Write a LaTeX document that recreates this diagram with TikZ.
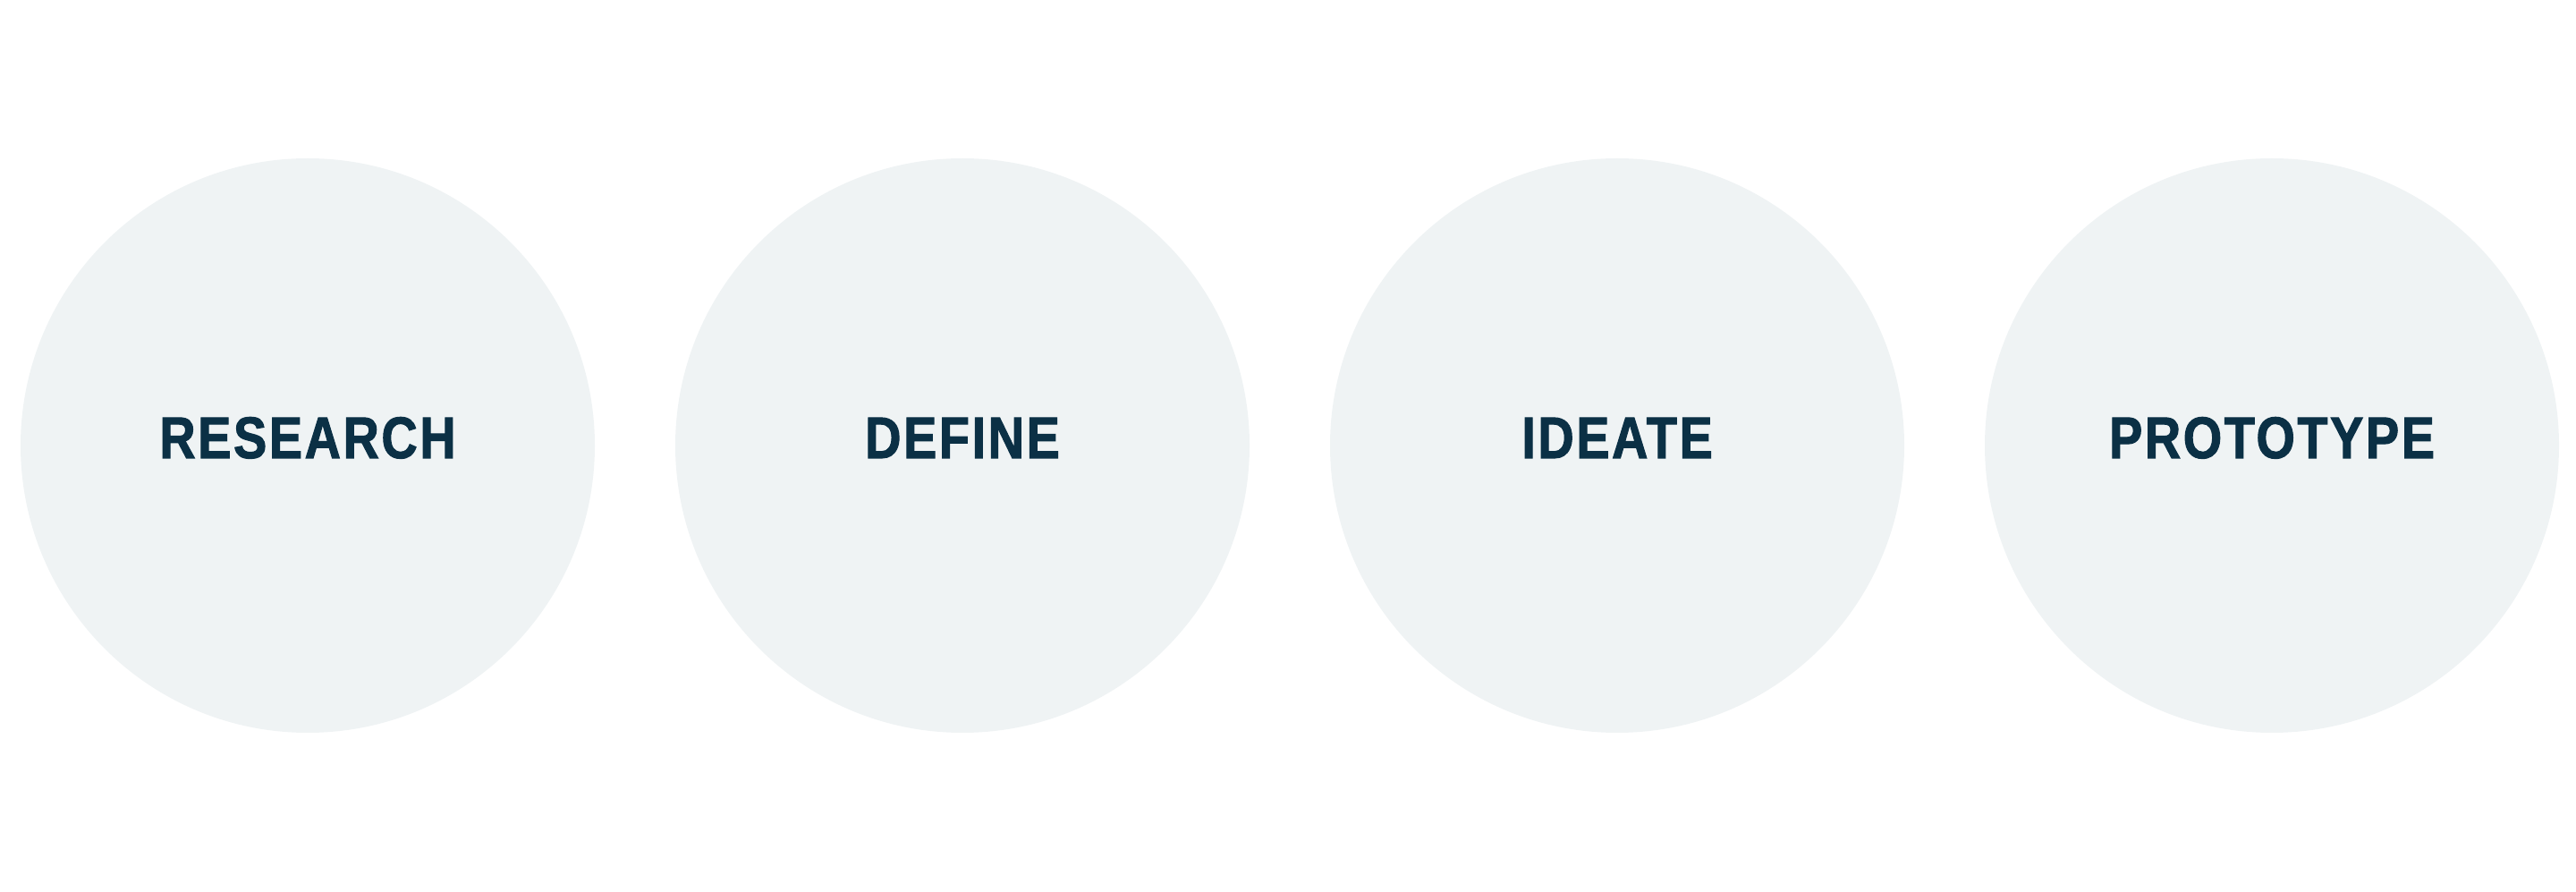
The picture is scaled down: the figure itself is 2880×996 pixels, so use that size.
\documentclass[tikz,border=0pt]{standalone}
\usepackage{fontspec}
\newfontfamily\labelfont[FakeStretch=0.85,FakeBold=1.6,LetterSpace=4]{Liberation Sans}
\definecolor{circfill}{HTML}{EFF3F4}
\definecolor{labeltext}{HTML}{0B3045}
\begin{document}
\begin{tikzpicture}[x=1pt,y=1pt,
  phase/.style={circle,fill=circfill,draw=none,minimum size=642pt,inner sep=0pt},
  phaselabel/.style={anchor=base,text=labeltext,font=\labelfont\bfseries\fontsize{65.6}{70}\selectfont,inner sep=0pt}]
\useasboundingbox (0,0) rectangle (2880,996);
\node[phase] (c1) at (344,498) {};
\node[phase] (c2) at (1076,498) {};
\node[phase] (c3) at (1808,498) {};
\node[phase] (c4) at (2540,498) {};
\node[phaselabel] (t1) at (344,484) {RESEARCH};
\node[phaselabel] (t2) at (1076,484) {DEFINE};
\node[phaselabel] (t3) at (1808,484) {IDEATE};
\node[phaselabel] (t4) at (2540,484) {PROTOTYPE};
\end{tikzpicture}
\end{document}
